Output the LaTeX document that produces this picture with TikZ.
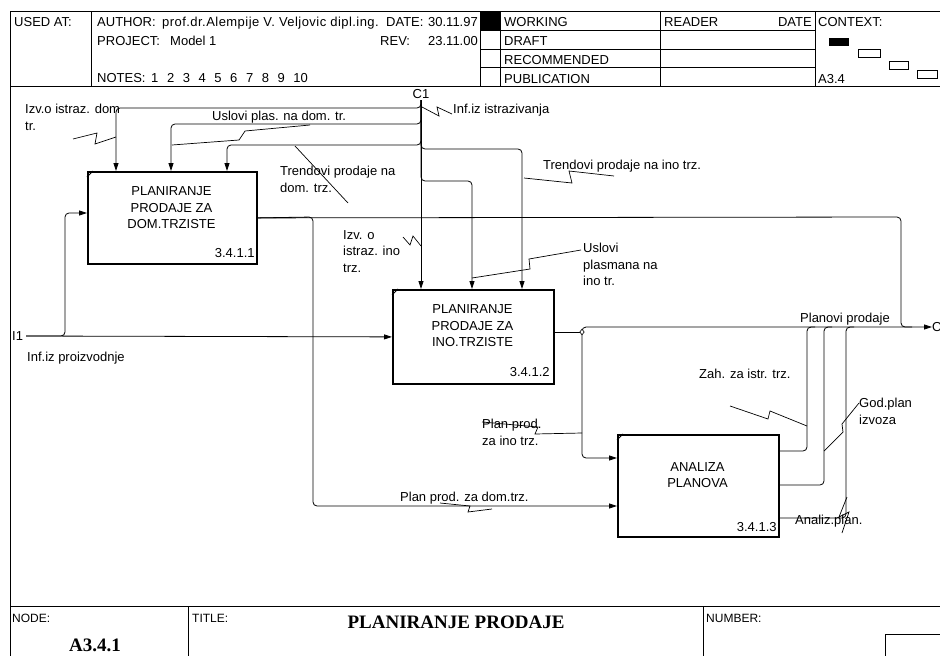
\documentclass[tikz,border=0pt]{standalone}
\usepackage{fontspec}
\setmainfont{Liberation Sans}
\newfontfamily\serifbf{Liberation Serif}
\newfontfamily\widesans[LetterSpace=3.5]{Liberation Sans}
\usetikzlibrary{arrows.meta}
\begin{document}
\begin{tikzpicture}[x=1pt,y=-1pt,
  every node/.style={inner sep=0pt, font=\fontsize{13}{16.5}\selectfont},
  frame/.style={line width=0.8pt},
  proc/.style={draw, line width=1.8pt, anchor=north west},
  conn/.style={line width=0.8pt, rounded corners=4pt},
  arr/.style={-{Triangle[length=8pt,width=5pt]}},
  lead/.style={line width=0.7pt},
  lbl/.style={anchor=north west, align=left},
  hd/.style={anchor=base west},
  num/.style={anchor=base east}
]
\useasboundingbox (0,0) rectangle (940,656);
\clip (0,0) rectangle (940,656);
\fill[white] (0,0) rectangle (940,656);

% ---------- frame / header ----------
\draw[frame] (10,660) -- (10,11) -- (950,11);
\draw[frame] (10,86) -- (950,86);
\foreach \x in {91,480,500,660,815} \draw[frame] (\x,11) -- (\x,86);
\foreach \y in {30,49,67} \draw[frame] (480,\y) -- (815,\y);
\fill (480,11) rectangle (500,30);

\node[hd] (usedat) at (14,26) {USED AT:};
\node[hd] (author) at (97,26) {AUTHOR:};
\node[hd, font=\widesans\fontsize{13}{16.5}\selectfont] (authn) at (162,26) {prof.dr.Alempije V. Veljovic dipl.ing.};
\node[hd] (date) at (386,26) {DATE:};
\node[anchor=base east] (dateval) at (478,26) {30.11.97};
\node[hd] (project) at (97,45) {PROJECT:};
\node[hd] (model) at (170,45) {Model 1};
\node[hd] (rev) at (380,45) {REV:};
\node[anchor=base east] (revval) at (478,45) {23.11.00};
\node[hd] (notes) at (97,82) {NOTES:};
\foreach \i in {1,...,10} \node[hd] (note\i) at ({151+15.8*(\i-1)},82) {\i};

\node[hd] (working) at (504,26) {WORKING};
\node[hd] (draft) at (504,45) {DRAFT};
\node[hd] (recom) at (504,64) {RECOMMENDED};
\node[hd] (publ) at (504,83) {PUBLICATION};
\node[hd] (reader) at (664,26) {READER};
\node[anchor=base east] (rdate) at (812,26) {DATE};
\node[hd] (context) at (818,26) {CONTEXT:};
\node[hd] (ctxnode) at (818,83) {A3.4};
\fill (829,38) rectangle (849,46);
\draw[frame] (858,49) rectangle (880,57);
\draw[frame] (889,61) rectangle (908,69);
\draw[frame] (917,70) rectangle (937,78);

% ---------- footer ----------
\draw[frame] (10,606) -- (950,606);
\draw[frame] (188,606) -- (188,660);
\draw[frame] (703,606) -- (703,660);
\draw[frame] (885,660) -- (885,634) -- (950,634);
\node[hd, font=\fontsize{12}{14}\selectfont] (nodelbl) at (12,622) {NODE:};
\node[hd, font=\fontsize{12}{14}\selectfont] (titlelbl) at (192,622) {TITLE:};
\node[hd, font=\fontsize{12}{14}\selectfont] (numlbl) at (706,622) {NUMBER:};
\node[font=\serifbf\bfseries\fontsize{19}{22}\selectfont] (title) at (456,622) {PLANIRANJE PRODAJE};
\node[font=\serifbf\bfseries\fontsize{19}{22}\selectfont] (nodeid) at (95,645) {A3.4.1};

% ---------- boxes ----------
\node[proc, minimum width=169pt, minimum height=92pt] (b1) at (87,171) {};
\node[proc, minimum width=161pt, minimum height=94pt] (b2) at (392,289) {};
\node[proc, minimum width=161pt, minimum height=102pt] (b3) at (617,434) {};
\foreach \b in {b1,b2,b3}
  \draw[line width=0.8pt] ([yshift=-6pt]\b.north west) -- ([xshift=6pt]\b.north west);
\node[align=center] (t1) at (171.5,208) {PLANIRANJE\\PRODAJE ZA\\DOM.TRZISTE};
\node[align=center] (t2) at (472.5,326) {PLANIRANJE\\PRODAJE ZA\\INO.TRZISTE};
\node[align=center] (t3) at (697.5,475) {ANALIZA\\PLANOVA};
\node[num] (n1) at ([xshift=-3pt,yshift=7pt]b1.south east) {3.4.1.1};
\node[num] (n2) at ([xshift=-5pt,yshift=8pt]b2.south east) {3.4.1.2};
\node[num] (n3) at ([xshift=-3pt,yshift=6pt]b3.south east) {3.4.1.3};

% ---------- boundary labels ----------
\node (c1lbl) at (421,94) {C1};
\coordinate (c1) at (421,100);
\node[anchor=west] (i1) at (12,336) {I1};
\node[anchor=west] (o1) at (932,327) {O1};

% ---------- controls from C1 ----------
\draw[conn,arr] (c1) -- (421,108) -- (116,108) -- ([xshift=29pt]b1.north west);
\draw[conn,arr] (c1) -- (421,124) -- (171,124) -- ([xshift=84pt]b1.north west);
\draw[conn,arr] (c1) -- (421,145) -- (227,145) -- ([xshift=140pt]b1.north west);
\draw[conn,arr] (c1) -- (421,149) -- (522,149) -- ([xshift=130pt]b2.north west);
\draw[conn,arr] (c1) -- (421,181) -- (472,181) -- ([xshift=80pt]b2.north west);
\draw[conn,arr] (c1) -- ([xshift=29pt]b2.north west);

% ---------- input I1 ----------
\draw[conn,arr,shorten <=3pt] (i1.east) -- (b2.west);
\draw[conn,arr,shorten <=3pt] (i1.east) -- (65,336) -- (65,213) -- ([yshift=-42pt]b1.north west);

% ---------- outputs ----------
\draw[conn] (b1.east) -- (901,217) -- (901,327) -- (912,327);
\draw[conn,arr] (b1.east) -- (313,217) -- (313,506) -- ([yshift=-72pt]b3.north west);
\coordinate (j) at (582,332);
\draw[conn] ([yshift=-43pt]b2.north east) -- (j);
\draw[conn,arr] (j) -- (582,327) -- (o1.west);
\draw[conn,arr] (j) -- (582,458) -- ([yshift=-24pt]b3.north west);
\draw[line width=0.6pt, fill=white] (j) +(-2.2,0) -- +(0,-2.8) -- +(2.2,0) -- +(0,2.8) -- cycle;
\draw[conn] ([yshift=-17pt]b3.north east) -- (807,451) -- (807,327) -- (815,327);
\draw[conn] ([yshift=-51pt]b3.north east) -- (824,485) -- (824,327) -- (832,327);
\draw[conn] ([yshift=-84pt]b3.north east) -- (846,518) -- (846,327) -- (854,327);

% ---------- arrow labels ----------
\node[lbl] (l1) at (25,104) {Izv.o istraz. dom\\tr.};
\draw[lead] (73,139) -- (97,133) -- (95,144) -- (116,137);
\node[lbl] (l2) at (212,111) {Uslovi plas. na dom. tr.};
\draw[lead] (310,125) -- (245,131) -- (239,140) -- (172,145);
\node[lbl] (l3) at (280,166) {Trendovi prodaje na\\dom. trz.};
\draw[lead] (295,146) -- (348,203);
\node[lbl] (l4) at (453,104) {Inf.iz istrazivanja};
\draw[lead] (422,107) -- (439,116) -- (437,107) -- (452,114);
\node[lbl] (l5) at (543,160) {Trendovi prodaje na ino trz.};
\draw[lead] (614,176) -- (569,171) -- (572,183) -- (524,178);
\node[lbl] (l6) at (343,230) {Izv. o\\istraz. ino\\trz.};
\draw[lead] (403,237) -- (410,245) -- (413,236) -- (421,246);
\node[lbl] (l7) at (583,243) {Uslovi\\plasmana na\\ino tr.};
\draw[lead] (581,250) -- (529,259) -- (530,269) -- (472,278);
\node[lbl] (l8) at (27,352) {Inf.iz proizvodnje};
\node[lbl] (l9) at (800,313) {Planovi prodaje};
\node[lbl] (l10) at (699,369) {Zah. za istr. trz.};
\draw[lead] (730,406) -- (768,419) -- (770,411) -- (807,426);
\node[lbl] (l11) at (482,419) {Plan prod.\\za ino trz.};
\draw[lead] (482,422) -- (538,427) -- (535,434) -- (582,433);
\node[lbl] (l12) at (859,398) {God.plan\\izvoza};
\draw[lead] (859,403) -- (842,424) -- (843,432) -- (824,451);
\node[lbl] (l13) at (400,492) {Plan prod. za dom.trz.};
\draw[lead] (440,503) -- (470,506) -- (468,512) -- (492,509);
\node[lbl] (l14) at (795,515) {Analiz.plan.};
\draw[lead] (847,497) -- (839,517) -- (849,512) -- (842,533);
\end{tikzpicture}
\end{document}
